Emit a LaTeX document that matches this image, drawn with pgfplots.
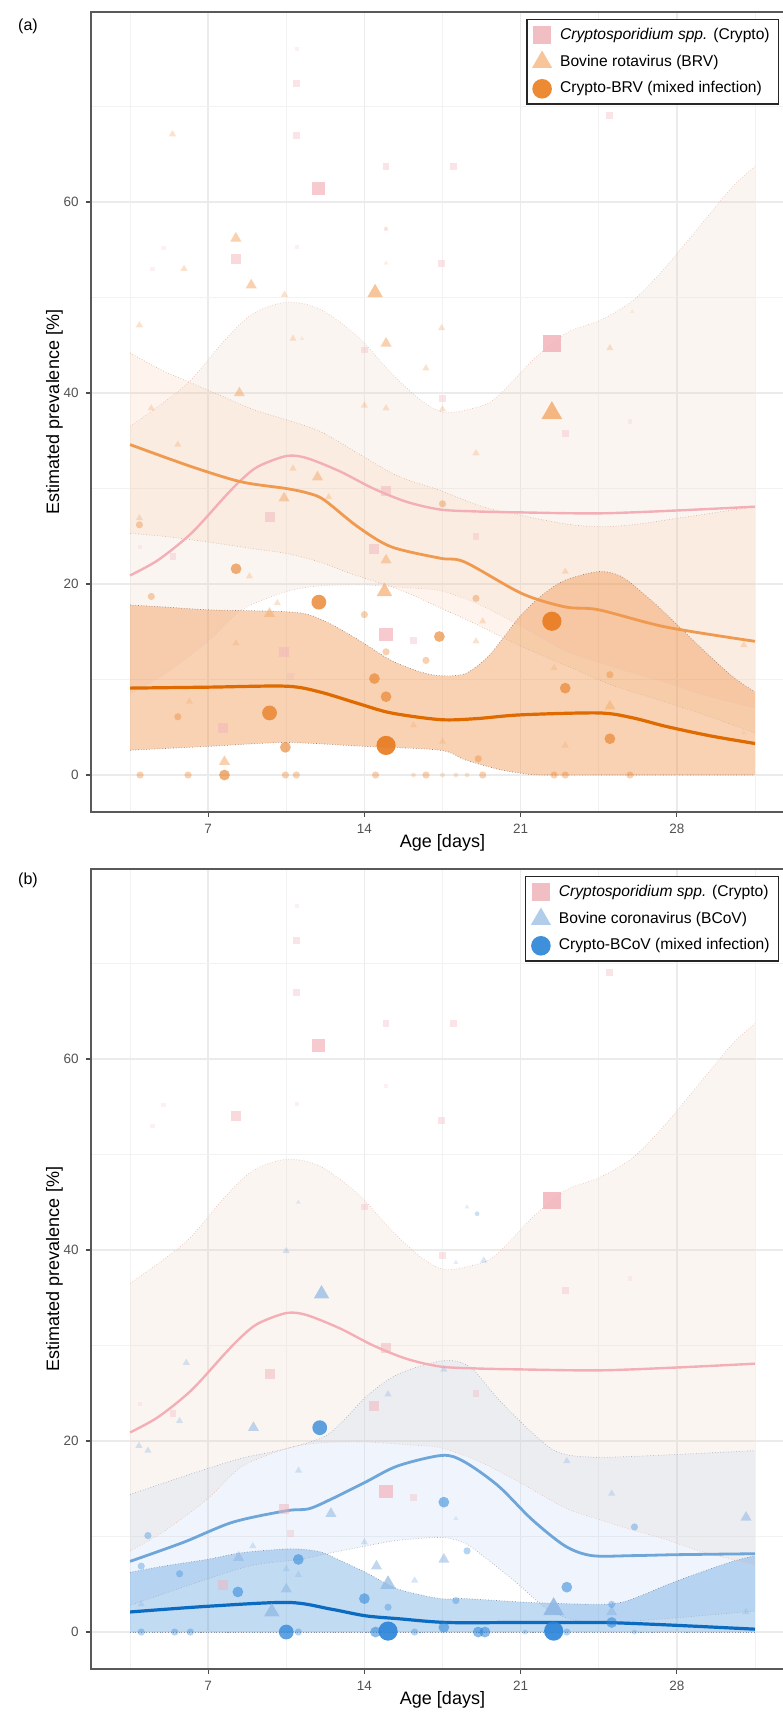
\documentclass[border=0pt]{standalone}
\usepackage{fontspec}
\setmainfont{Liberation Sans}
\usepackage{pgfplots}
\pgfplotsset{compat=1.18}
\usepgfplotslibrary{fillbetween}

\definecolor{gridc}{HTML}{EBEBEB}
\definecolor{gridm}{HTML}{F2F2F2}
\definecolor{cryptoPt}{HTML}{F2B3BA}
\definecolor{cryptoLn}{HTML}{F4AEB5}
\definecolor{cryptoBand}{HTML}{EBCFBD}
\definecolor{cryptoEdge}{HTML}{E8C4BC}
\definecolor{cryptoLeg}{HTML}{F1BFC3}
\definecolor{brvPt}{HTML}{F4AC6E}
\definecolor{brvLn}{HTML}{F09A50}
\definecolor{brvBand}{HTML}{F8B888}
\definecolor{brvEdge}{HTML}{D9B8A0}
\definecolor{brvLeg}{HTML}{F8C49A}
\definecolor{mixaPt}{HTML}{E87A1E}
\definecolor{mixaLn}{HTML}{DF6A00}
\definecolor{mixaBand}{HTML}{EE8A3A}
\definecolor{mixaEdge}{HTML}{A08070}
\definecolor{mixaLeg}{HTML}{EC8B33}
\definecolor{bcovPt}{HTML}{8DB6E2}
\definecolor{bcovLn}{HTML}{6FA6DA}
\definecolor{bcovBand}{HTML}{A0C0F0}
\definecolor{bcovEdge}{HTML}{A8AFC0}
\definecolor{bcovLeg}{HTML}{B2CDEA}
\definecolor{mixbPt}{HTML}{2A84D8}
\definecolor{mixbLn}{HTML}{0B6BC0}
\definecolor{mixbBand}{HTML}{3D8FDB}
\definecolor{mixbEdge}{HTML}{8090A8}
\definecolor{mixbLeg}{HTML}{3E90DA}

\pgfplotsset{
  bedge/.style={smooth, tension=0.5, densely dotted, line width=0.35pt, draw=#1, forget plot},
  cline/.style={smooth, tension=0.5, line width=#1, forget plot},
  pt/.style n args={4}{only marks, mark=#1, mark size=#2, color=#3,
     mark options={solid, color=#3, fill=#3, draw opacity=0, fill opacity=#4}, forget plot},
  legmark/.style n args={3}{only marks, mark=#1, mark size=#2, color=#3,
     mark options={solid, color=#3, fill=#3, draw opacity=0}},
  panel/.style={
    scale only axis, width=351.5pt, height=400pt,
    xmin=1.75, xmax=33.25, ymin=-3.87, ymax=79.9,
    xtick={7,14,21,28}, ytick={0,20,40,60},
    minor xtick={3.5,10.5,17.5,24.5,31.5}, minor ytick={10,30,50,70},
    grid=both,
    major grid style={draw=gridc, line width=0.8pt},
    minor grid style={draw=gridm, line width=0.45pt},
    tick align=outside, tick pos=left,
    major tick length=2.6pt, minor tick length=0pt,
    tick style={draw=black!70, line width=0.6pt},
    axis line style={draw=black!65, line width=0.8pt},
    ticklabel style={font=\fontsize{6.75}{7}\selectfont, text=black!68},
    /pgf/number format/assume math mode=true,
    xlabel={Age [days]}, ylabel={Estimated prevalence [\%]},
    every axis x label/.style={at={(axis description cs:0.5,-0.039)}, anchor=center,
       font=\fontsize{9}{10}\selectfont},
    every axis y label/.style={at={(axis description cs:-0.052,0.5)}, rotate=90, anchor=center,
       font=\fontsize{9}{10}\selectfont},
    legend style={at={(0.979,0.991)}, anchor=north east, draw=black!85, line width=0.6pt,
      fill=white, inner xsep=2.5pt, inner ysep=2pt, font=\fontsize{7.8}{9}\selectfont,
      row sep=2.2pt, /tikz/every odd column/.append style={column sep=2pt}},
    legend cell align=left,
  }
}

% ---------- Crypto (shared by both panels) ----------
\newcommand{\cryptoband}{%
\addplot[bedge=cryptoEdge, name path=cu] coordinates {(3.5,36.5)(5,39)(6.24,41.4)(7.73,45.5)(9,48.3)(10.5,49.5)(12,48.8)(13.7,45.9)(15.2,42.1)(16.5,39.3)(17.5,38.0)(18.5,38.2)(19.8,39.3)(21.57,43.5)(23.06,46.3)(24.55,47.6)(26.04,49.7)(27.5,53.2)(29,57.4)(30.5,61.6)(31.5,63.7)};
\addplot[bedge=cryptoEdge, name path=cl] coordinates {(3.5,8.5)(5,10.5)(7,14)(8.5,17.3)(10.5,19.2)(12,19.8)(14,19.9)(16,19.6)(17.4,19.3)(19,18)(20.7,16)(23,13)(24.5,11.8)(26,10.7)(27.5,9.7)(29,8.5)(31.5,7)};
\addplot[fill=cryptoBand, fill opacity=0.2, draw=none, forget plot] fill between[of=cu and cl];
}
\newcommand{\cryptoline}{%
\addplot[cline=1.2pt, cryptoLn] coordinates {(3.5,20.9)(4.75,22.5)(6.24,25.3)(7.73,29.1)(8.48,30.9)(9.23,32.3)(10.5,33.4)(11.4,33.2)(12.9,31.8)(14.4,30.0)(15.9,28.6)(17.4,27.8)(19,27.6)(21,27.5)(24.5,27.4)(28,27.7)(31.5,28.1)};
}
\newcommand{\cryptopoints}{%
\addplot[pt={square*}{4.4pt}{cryptoPt}{0.85}] coordinates {(22.4,45.2)};
\addplot[pt={square*}{3.4pt}{cryptoPt}{0.7}] coordinates {(11.94,61.4)(14.97,14.7)};
\addplot[pt={square*}{2.5pt}{cryptoPt}{0.5}] coordinates {(9.75,27.0)(14.97,29.7)(14.45,23.7)(10.4,12.9)(7.65,4.9)(8.24,54.0)};
\addplot[pt={square*}{1.7pt}{cryptoPt}{0.35}] coordinates {(16.2,14.1)(10.7,10.3)(14.0,44.5)(5.42,22.9)(25.0,69.1)(18.0,63.7)(17.46,53.6)(17.5,39.4)(19.0,25.0)(23.0,35.8)(14.97,63.7)(10.97,72.4)(10.97,67.0)};
\addplot[pt={square*}{1.1pt}{cryptoPt}{0.2}] coordinates {(10.97,76.0)(10.97,55.3)(4.5,53.0)(5.0,55.2)(3.95,23.9)(25.9,37.0)(14.97,57.2)};
}

\begin{document}
\begin{tikzpicture}

\node[font=\fontsize{8}{9}\selectfont] at (14pt,845pt) {(a)};
\node[font=\fontsize{8}{9}\selectfont] at (14pt,418pt) {(b)};

% ================= Panel (a) =================
\begin{axis}[panel, at={(45.5pt,452pt)}, anchor=south west]
\addlegendimage{legmark={square*}{4.6pt}{cryptoLeg}}
\addlegendentry{{\itshape Cryptosporidium spp.} (Crypto)}
\addlegendimage{legmark={triangle*}{5.8pt}{brvLeg}}
\addlegendentry{Bovine rotavirus (BRV)}
\addlegendimage{legmark={*}{4.9pt}{mixaLeg}}
\addlegendentry{Crypto-BRV (mixed infection)}

\cryptoband
% BRV band
\addplot[bedge=brvEdge, name path=bu] coordinates {(3.5,44.2)(5,42.3)(7,40.3)(9,38.3)(10.5,37.2)(12,36.0)(13.7,33.7)(15.5,31.3)(17.4,29.8)(19.3,28.1)(21,27.2)(23,26.3)(24.5,26.0)(26,26.2)(27.5,26.7)(29.5,27.4)(31.5,28.1)};
\addplot[bedge=brvEdge, name path=bl] coordinates {(3.5,25.3)(5,25.0)(7,24.4)(9,23.7)(10.5,23.2)(12,22.3)(13.5,21.0)(15.6,19.4)(17.4,17.5)(19,15.8)(21,13.5)(23,11.5)(25,9.5)(27,8.0)(29,6.5)(31.5,4.4)};
\addplot[fill=brvBand, fill opacity=0.15, draw=none, forget plot] fill between[of=bu and bl];
% mixed band
\addplot[bedge=mixaEdge, name path=mu] coordinates {(3.5,17.8)(5,17.6)(7,17.3)(9,17.2)(10.5,17.1)(11.5,16.8)(12.5,15.8)(13.7,14.2)(15.2,12.0)(16.5,10.8)(17.4,10.4)(18.5,10.6)(19.5,12.3)(20.3,14.6)(21,16.7)(22,18.9)(23,20.4)(24.5,21.3)(25.5,20.8)(26.5,19.0)(27.5,16.9)(29,13.5)(30.5,10.3)(31.5,8.7)};
\addplot[bedge=mixaEdge, name path=ml] coordinates {(3.5,2.6)(7,3.0)(10.5,3.4)(14,3.0)(17.4,2.6)(18.5,1.6)(20,0.6)(21,0.2)(22,0)(26,0)(31.5,0)};
\addplot[fill=mixaBand, fill opacity=0.38, draw=none, forget plot] fill between[of=mu and ml];

\cryptopoints
% BRV triangles
\addplot[pt={triangle*}{6.0pt}{brvPt}{0.85}] coordinates {(22.4,37.9)};
\addplot[pt={triangle*}{4.5pt}{brvPt}{0.7}] coordinates {(14.48,50.5)(14.9,19.2)};
\addplot[pt={triangle*}{3.2pt}{brvPt}{0.55}] coordinates {(8.93,51.3)(14.97,45.2)(11.9,31.2)(10.4,29.0)(14.97,22.5)(9.75,16.9)(7.73,1.4)(8.24,56.2)(25.0,7.2)(8.4,40.0)};
\addplot[pt={triangle*}{2.1pt}{brvPt}{0.35}] coordinates {(10.42,50.3)(3.92,47.1)(16.76,42.6)(4.45,38.4)(14.0,38.7)(14.97,38.4)(5.64,34.6)(10.8,32.1)(12.4,29.1)(3.92,26.9)(8.85,20.8)(10.1,18.0)(8.25,13.8)(6.16,7.7)(16.2,5.2)(17.5,3.5)(5.4,67.1)(5.92,53.0)(17.46,46.8)(25.0,44.7)(17.5,38.3)(19.0,33.7)(23.0,21.3)(19.3,16.1)(19.0,14.0)(22.5,11.2)(23.0,3.1)(31.0,13.6)(10.8,45.7)};
\addplot[pt={triangle*}{1.4pt}{brvPt}{0.2}] coordinates {(14.97,53.6)(14.97,57.2)(26.0,48.5)(31.0,4.4)(11.2,45.7)};
% mixed circles
\addplot[pt={*}{4.8pt}{mixaPt}{0.9}] coordinates {(14.97,3.1)(22.4,16.1)};
\addplot[pt={*}{3.7pt}{mixaPt}{0.75}] coordinates {(11.96,18.1)(9.75,6.5)};
\addplot[pt={*}{2.7pt}{mixaPt}{0.6}] coordinates {(8.25,21.6)(14.45,10.1)(14.97,8.2)(10.46,2.9)(7.73,0.0)(17.36,14.5)(25.0,3.8)(23.0,9.1)};
\addplot[pt={*}{1.8pt}{mixaPt}{0.35}] coordinates {(3.92,26.2)(4.45,18.7)(14.0,16.8)(5.64,6.1)(14.97,12.9)(16.76,12.0)(17.5,28.4)(19.0,18.5)(25.0,10.5)(19.1,1.7)(19.3,0)(22.5,0)(23.0,0)(25.9,0)(10.46,0)(10.95,0)(14.5,0)(6.1,0)(3.95,0)(16.76,0)};
\addplot[pt={*}{1.2pt}{mixaPt}{0.2}] coordinates {(18.1,0)(18.6,0)(16.2,0)(17.5,0)};

\cryptoline
\addplot[cline=1.4pt, brvLn] coordinates {(3.5,34.6)(6.24,32.3)(8.48,30.7)(10.5,30.0)(11.5,29.5)(12.2,28.8)(13.7,26.0)(15.2,23.9)(17.4,22.7)(18.5,22.3)(21.06,19.0)(23,17.6)(24.5,17.3)(27.5,15.5)(31.5,14.0)};
\addplot[cline=1.6pt, mixaLn] coordinates {(3.5,9.1)(7,9.2)(10.5,9.3)(12,8.7)(13.7,7.5)(15.2,6.5)(17.4,5.8)(19,5.9)(21,6.3)(24.5,6.5)(26,6.0)(27.5,5.1)(29.5,4.1)(31.5,3.3)};
\end{axis}

% ================= Panel (b) =================
\begin{axis}[panel, at={(45.5pt,23.5pt)}, anchor=south west]
\addlegendimage{legmark={square*}{4.6pt}{cryptoLeg}}
\addlegendentry{{\itshape Cryptosporidium spp.} (Crypto)}
\addlegendimage{legmark={triangle*}{5.8pt}{bcovLeg}}
\addlegendentry{Bovine coronavirus (BCoV)}
\addlegendimage{legmark={*}{4.9pt}{mixbLeg}}
\addlegendentry{Crypto-BCoV (mixed infection)}

\cryptoband
% BCoV band
\addplot[bedge=bcovEdge, name path=vu] coordinates {(3.5,14.4)(5,15.6)(6.94,17.1)(8.5,18.2)(10.5,19.2)(12.15,20.4)(13,22)(14.1,24.7)(15.5,27)(17.5,28.4)(18.7,27.8)(20,24.4)(21.5,20.9)(22.7,18.8)(24.5,18.3)(28,18.6)(31.5,19.0)};
\addplot[bedge=bcovEdge, name path=vl] coordinates {(3.5,2.8)(6.9,5.5)(9,7.0)(11.1,7.6)(12.5,8.3)(14.05,9.0)(15.5,9.6)(17.5,9.9)(18.5,9.3)(19.3,8.0)(20.8,5.2)(22.2,2.4)(23.5,1.2)(25,1.0)(28,1.5)(31.5,2.2)};
\addplot[fill=bcovBand, fill opacity=0.16, draw=none, forget plot] fill between[of=vu and vl];
% mixed band
\addplot[bedge=mixbEdge, name path=nu] coordinates {(3.5,6.25)(5,6.9)(6.94,7.6)(8.5,8.3)(10.5,8.7)(11.5,8.6)(12.15,8.3)(13,7.4)(14.1,6.2)(15.5,4.5)(17.4,3.5)(18.5,3.5)(21.4,3.1)(24.4,2.9)(25.5,3.1)(26.5,3.9)(27.5,4.9)(29,6.2)(30.5,7.4)(31.5,8.0)};
\addplot[bedge=mixbEdge, name path=nl] coordinates {(3.5,0)(10,0)(20,0)(31.5,0)};
\addplot[fill=mixbBand, fill opacity=0.32, draw=none, forget plot] fill between[of=nu and nl];

\cryptopoints
% BCoV triangles
\addplot[pt={triangle*}{6.0pt}{bcovPt}{0.85}] coordinates {(22.48,2.4)};
\addplot[pt={triangle*}{4.5pt}{bcovPt}{0.7}] coordinates {(12.08,35.4)(15.06,5.0)(9.85,2.1)};
\addplot[pt={triangle*}{3.2pt}{bcovPt}{0.55}] coordinates {(9.03,21.4)(12.5,12.4)(8.36,7.8)(14.54,6.9)(10.5,4.5)(31.1,12.0)(17.56,7.6)(25.08,2.1)};
\addplot[pt={triangle*}{2.1pt}{bcovPt}{0.35}] coordinates {(10.5,39.9)(6.02,28.2)(5.72,22.1)(3.9,19.5)(4.3,19.0)(11.05,16.9)(14.0,9.4)(9.0,9.0)(10.5,6.6)(11.04,6.0)(16.25,5.4)(4.0,2.9)(19.35,38.9)(17.56,27.5)(23.07,17.9)(25.08,14.5)(31.1,2.1)(15.06,24.9)};
\addplot[pt={triangle*}{1.4pt}{bcovPt}{0.25}] coordinates {(18.1,38.7)(18.6,44.5)(18.1,11.9)(11.04,45.0)};
% mixed circles
\addplot[pt={*}{4.8pt}{mixbPt}{0.9}] coordinates {(15.06,0.1)(22.48,0.1)};
\addplot[pt={*}{3.7pt}{mixbPt}{0.75}] coordinates {(12.0,21.4)(10.5,0)};
\addplot[pt={*}{2.7pt}{mixbPt}{0.55}] coordinates {(11.04,7.6)(8.33,4.2)(14.0,3.5)(17.56,13.6)(23.07,4.7)(25.08,1.0)(14.5,0)(17.56,0.5)(19.1,0)(19.4,0)};
\addplot[pt={*}{1.8pt}{mixbPt}{0.35}] coordinates {(4.3,10.1)(4.0,6.9)(5.72,6.1)(15.06,2.6)(4.0,0)(5.5,0)(6.2,0)(11.04,0)(16.25,0)(26.1,11.0)(18.6,8.5)(25.08,2.9)(18.1,3.3)(23.07,0)};
\addplot[pt={*}{1.2pt}{mixbPt}{0.25}] coordinates {(19.05,43.8)(21.2,0)(26.1,0)};

\cryptoline
\addplot[cline=1.4pt, bcovLn] coordinates {(3.5,7.4)(5.9,9.4)(8.1,11.5)(10.5,12.7)(11.5,12.9)(12.5,13.9)(14.05,15.7)(15.5,17.4)(17.5,18.5)(18.5,17.8)(20,15.3)(21.5,11.8)(23,9.0)(24.2,8.0)(26,8.0)(28,8.1)(31.5,8.2)};
\addplot[cline=1.6pt, mixbLn] coordinates {(3.5,2.1)(7,2.7)(10.6,3.1)(12.5,2.4)(14.05,1.7)(15.5,1.4)(17.7,1.0)(21,1.0)(24.5,1.0)(26,0.9)(28,0.7)(31.5,0.3)};
\end{axis}
\pgfresetboundingbox
\useasboundingbox (0,0) rectangle (391pt,858pt);
\end{tikzpicture}
\end{document}
